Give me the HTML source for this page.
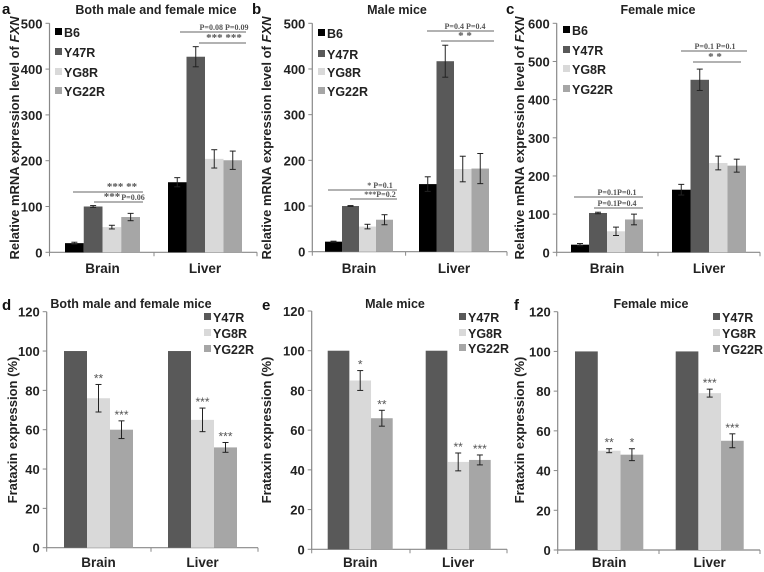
<!DOCTYPE html>
<html><head><meta charset="utf-8"><style>
body{margin:0;background:#fff;}
svg{display:block;font-family:"Liberation Sans",Arial,sans-serif;}
</style></head><body>
<svg id="fig" width="764" height="572" viewBox="0 0 764 572"></svg>
<script>
const categories=["Brain","Liver"];
const topSeries=["B6","Y47R","YG8R","YG22R"];
const botSeries=["Y47R","YG8R","YG22R"];
const aBrain=[20,100,55,77], aLiver=[153,427,204,201], aBrainErr=[2,2,4,8], aLiverErr=[10,22,20,20];
const bBrain=[22,100,55,70], bLiver=[148,417,181,182], bBrainErr=[1,1,5,11], bLiverErr=[16,35,28,33];
const cBrain=[20,103,55,86], cLiver=[164,452,234,227], cBrainErr=[3,2,11,14], cLiverErr=[14,28,18,17];
const dBrain=[100,76,60], dLiver=[100,65,51], dBrainErr=[0,7,4.5], dLiverErr=[0,6,2.5];
const eBrain=[100,85,66], eLiver=[100,44,45], eBrainErr=[0,5,4], eLiverErr=[0,4.5,2.5];
const fBrain=[100,50,48], fLiver=[100,79,55], fBrainErr=[0,1,3], fLiverErr=[0,2,3.5];
const topTicks=[0,100,200,300,400,500];
const cTicks=[0,100,200,300,400,500,600];
const botTicks=[0,20,40,60,80,100,120];
const dStars=[["","**","***"],["","***","***"]];
const eStars=[["","*","**"],["","**","***"]];
const fStars=[["","**","*"],["","***","***"]];

const colors={"B6":"#000","Y47R":"#595959","YG8R":"#d9d9d9","YG22R":"#a6a6a6"};
const NS="http://www.w3.org/2000/svg";
const svg=document.getElementById('fig');
function mk(tag,attrs,parent,txt){const e=document.createElementNS(NS,tag);for(const k in attrs)e.setAttribute(k,attrs[k]);if(txt!==undefined)e.textContent=txt;(parent||svg).appendChild(e);return e;}

function panel(p){
  const g=mk('g',{});
  
  
  const y=v=>p.y0-(v/p.max)*(p.y0-p.yTop);
  const ya=mk('line',{x1:p.ax,x2:p.ax,y1:p.yTop,y2:p.y0,stroke:'#888','stroke-width':1.2},g);
  
  const xa=mk('line',{x1:p.ax,x2:p.xEnd,y1:p.y0,y2:p.y0,stroke:'#888','stroke-width':1.2},g);
  
  [p.ax,p.div,p.xEnd].forEach(x=>mk('line',{x1:x,x2:x,y1:p.y0,y2:p.y0+4,stroke:'#888'},g));
  p.ticks.forEach(t=>{
    mk('line',{x1:p.ax-4,x2:p.ax,y1:y(t),y2:y(t),stroke:'#888'},g);
    const tl=mk('text',{x:p.ax-7,y:y(t)+5,'text-anchor':'end','font-size':13,'font-weight':'bold',fill:'#222'},g,t);
    
  });
  const groups=[[p.brain,p.brainErr,p.bx],[p.liver,p.liverErr,p.lx]];
  groups.forEach((gr,ci)=>{
    const [vals,errs,range]=gr;const n=vals.length;const w=(range[1]-range[0])/n;
    vals.forEach((v,i)=>{
      const x=range[0]+i*w;
      const r=mk('rect',{x:x,y:y(v),width:w,height:p.y0-y(v),fill:colors[p.series[i]]},g);
      
      
      const cx=x+w/2,e=errs[i];
      if(e>0){
        mk('line',{x1:cx,x2:cx,y1:y(v+e),y2:y(v-e),stroke:'#222','stroke-width':1},g);
        mk('line',{x1:cx-3,x2:cx+3,y1:y(v+e),y2:y(v+e),stroke:'#222'},g);
        mk('line',{x1:cx-3,x2:cx+3,y1:y(v-e),y2:y(v-e),stroke:'#222'},g);
      }
      if(p.stars){const s=p.stars[ci][i];if(s){const st=mk('text',{x:cx,y:y(v+e)-2,'text-anchor':'middle','font-size':12,fill:'#555'},g,s);
        }}
    });
    const cl=mk('text',{x:(range[0]+range[1])/2,y:p.catY,'text-anchor':'middle','font-size':13.5,'font-weight':'bold',fill:'#222'},g,categories[ci]);
    
  });
  const yt=mk('text',{x:0,y:0,transform:`translate(${p.ylx},${p.yly}) rotate(-90)`,'text-anchor':'middle','font-size':p.ylfs,'font-weight':'bold',fill:'#222'},g);
  
  if(p.fxn){yt.textContent='Relative mRNA expression level of ';mk('tspan',{'font-style':'italic'},yt,'FXN');}
  else yt.textContent='Frataxin expression (%)';
  const tt=mk('text',{x:p.tx,y:p.ty,'text-anchor':'middle','font-size':12.5,'font-weight':'bold',fill:'#222'},g,p.title);
  
  const lt=mk('text',{x:p.lx0,y:p.ly0,'font-size':15,'font-weight':'bold',fill:'#111'},g,p.letter);
  
  p.series.forEach((s,i)=>{
    const ly=p.legY[i];
    const le=mk('g',{},g);
    
    mk('rect',{x:p.legX,y:ly-4,width:7,height:7,fill:colors[s]},le);
    mk('text',{x:p.legX+9,y:ly+5,'font-size':12.5,'font-weight':'bold',fill:'#222'},le,s);
  });
  (p.ann||[]).forEach(a=>{
    const an=mk('g',{},g);
    
    mk('line',{x1:a[0],x2:a[1],y1:a[2],y2:a[2],stroke:'#666','stroke-width':1},an);
    mk('text',{x:a[4],y:a[2]-2,'font-size':a[3].indexOf('P')>=0?8:11,'font-family':'Liberation Serif,serif','font-weight':'bold',fill:'#555','text-anchor':'middle'},an,a[3]);
  });
}
panel({letter:'a',title:'Both male and female mice',tx:156,ty:14,lx0:2,ly0:14,ax:49.5,xEnd:257,div:154,yTop:23.3,y0:252.3,max:500,ticks:topTicks,
  series:topSeries,brain:aBrain,brainErr:aBrainErr,liver:aLiver,liverErr:aLiverErr,bx:[65,140],lx:[168,242],catY:273,
  ylx:19,yly:138,ylfs:13,fxn:true,legX:55,legY:[32,52,72,91],
  ann:[[73,143,192,'***   **',122],[94,143,202,'***  ',112],[94,143,202,'P=0.06',133],[180,246,32,'P=0.08  P=0.09',224],[199,246,43,'***  ***',224]]});
panel({letter:'b',title:'Male mice',tx:397,ty:14,lx0:252,ly0:14,ax:312.3,xEnd:507,div:405.6,yTop:23.3,y0:251.7,max:500,ticks:topTicks,
  series:topSeries,brain:bBrain,brainErr:bBrainErr,liver:bLiver,liverErr:bLiverErr,bx:[325,393],lx:[419,489],catY:273,
  ylx:271,yly:138,ylfs:13,fxn:true,legX:318,legY:[33,54,72,91],
  ann:[[328,397,190,'*     P=0.1',380],[350,397,199,'***P=0.2',380],[427,494,31,'P=0.4  P=0.4',465],[441,494,41,'*     *',465]]});
panel({letter:'c',title:'Female mice',tx:658,ty:14,lx0:506,ly0:14,ax:556.7,xEnd:760,div:658,yTop:23.3,y0:252.3,max:600,ticks:cTicks,
  series:topSeries,brain:cBrain,brainErr:cBrainErr,liver:cLiver,liverErr:cLiverErr,bx:[571,643],lx:[672,746],catY:273,
  ylx:524,yly:138,ylfs:13,fxn:true,legX:563,legY:[30,50,69,89],
  ann:[[574,643,197,'P=0.1P=0.1',617],[594,643,208,'P=0.1P=0.4',617],[681,747,51,'P=0.1  P=0.1',715],[693,741,62,'*     *',715]]});
panel({letter:'d',title:'Both male and female mice',tx:131,ty:308,lx0:2,ly0:310,ax:46.7,xEnd:258,div:151,yTop:311.7,y0:547.7,max:120,ticks:botTicks,
  series:botSeries,brain:dBrain,brainErr:dBrainErr,liver:dLiver,liverErr:dLiverErr,bx:[64,133],lx:[168,237],catY:567,
  ylx:17,yly:430,ylfs:13,fxn:false,legX:204,legY:[317,333,349],stars:dStars});
panel({letter:'e',title:'Male mice',tx:395,ty:308,lx0:262,ly0:310,ax:311.7,xEnd:507,div:410,yTop:311,y0:549.3,max:120,ticks:botTicks,
  series:botSeries,brain:eBrain,brainErr:eBrainErr,liver:eLiver,liverErr:eLiverErr,bx:[327.7,392.7],lx:[425.7,490.7],catY:567,
  ylx:271,yly:430,ylfs:13,fxn:false,legX:459,legY:[317,333,348],stars:eStars});
panel({letter:'f',title:'Female mice',tx:651,ty:308,lx0:514,ly0:310,ax:557.7,xEnd:760,div:659,yTop:311.7,y0:550,max:120,ticks:botTicks,
  series:botSeries,brain:fBrain,brainErr:fBrainErr,liver:fLiver,liverErr:fLiverErr,bx:[575,643.3],lx:[675.7,743.7],catY:567,
  ylx:524,yly:430,ylfs:13,fxn:false,legX:713,legY:[317,333,349],stars:fStars});
</script>
</body></html>
